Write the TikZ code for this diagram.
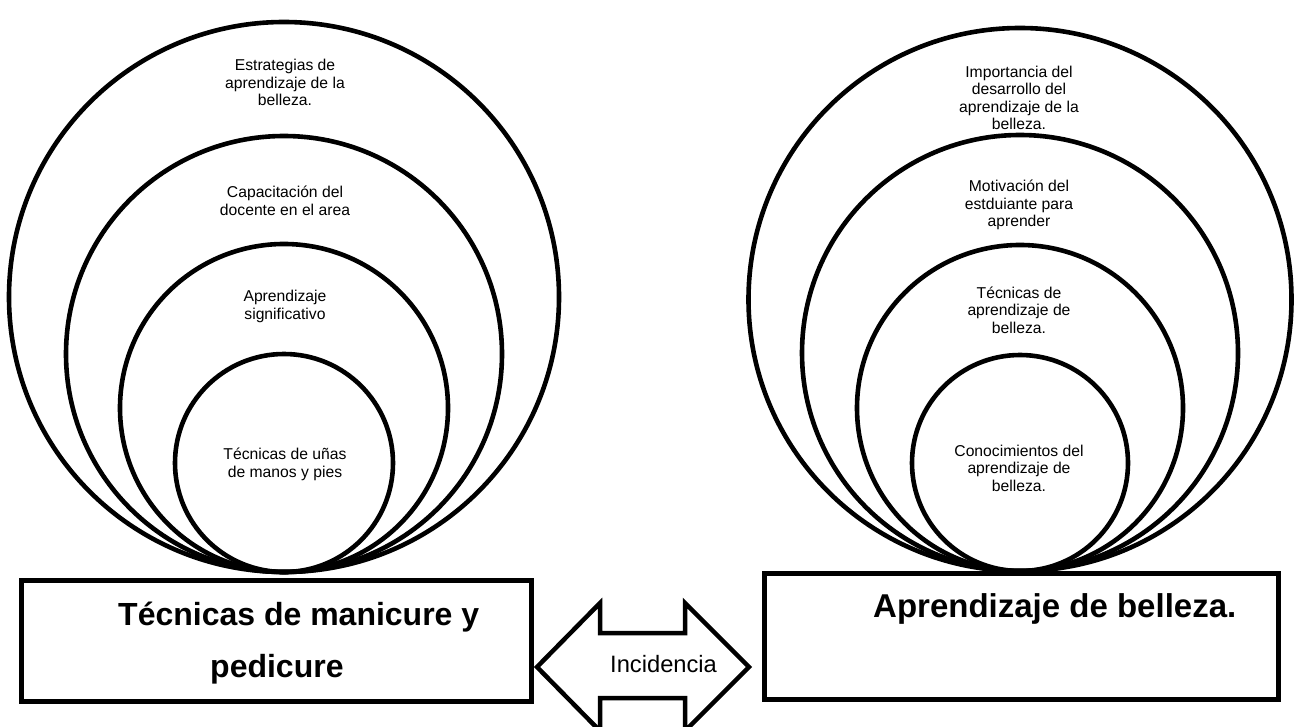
\documentclass[tikz,border=0pt]{standalone}
\usepackage{fontspec}
\setmainfont{Liberation Sans}
\begin{document}
\begin{tikzpicture}[x=1pt,y=-1pt,
  ring/.style={circle,draw,line width=4.6pt,inner sep=0pt,minimum size=#1},
  ctext/.style={align=center,font=\fontsize{15.7}{17.5}\selectfont,inner sep=0pt},
  bigbox/.style={draw,line width=5pt,inner sep=0pt},
  boxtext/.style={anchor=base west,inner sep=0pt,font=\fontsize{32}{36}\selectfont\bfseries},
  arrowshape/.style={draw,line width=4.5pt,line join=miter}]
\useasboundingbox (0,0) rectangle (1301,727);
\clip (0,0) rectangle (1301,727);

% left boxes
\node[bigbox,minimum width=510pt,minimum height=121pt] (lbox) at (276,640.5) {};
\node[bigbox,minimum width=514pt,minimum height=126pt] (rbox) at (1021,636.5) {};

% left circles
\node[ring=550pt] (l1) at (284,297) {};
\node[ring=436pt] (l2) at (284,354) {};
\node[ring=328pt] (l3) at (284,408) {};
\node[ring=218pt] (l4) at (284,463) {};

% right circles
\node[ring=543pt] (r1) at (1020,299.5) {};
\node[ring=436pt] (r2) at (1020,353) {};
\node[ring=326pt] (r3) at (1020,408) {};
\node[ring=216pt] (r4) at (1020,463) {};

% left texts
\node[ctext] (lt1) at (285,82.5) {Estrategias de\\aprendizaje de la\\belleza.};
\node[ctext] (lt2) at (285,201) {Capacitación del\\docente en el area};
\node[ctext] (lt3) at (285,306.5) {Aprendizaje\\significativo};
\node[ctext] (lt4) at (285,464.5) {Técnicas de uñas\\de manos y pies};

% right texts
\node[ctext] (rt1) at (1019,98) {Importancia del\\desarrollo del\\aprendizaje de la\\belleza.};
\node[ctext] (rt2) at (1019,205) {Motivación del\\estduiante para\\aprender};
\node[ctext] (rt3) at (1019,310) {Técnicas de\\aprendizaje de\\belleza.};
\node[ctext] (rt4) at (1019,468) {Conocimientos del\\aprendizaje de\\belleza.};

% box texts
\node[boxtext] (lbt1) at (118,625) {Técnicas de manicure y};
\node[boxtext] (lbt2) at (210,677) {pedicure};
\node[boxtext,font=\fontsize{33}{36}\selectfont\bfseries] (rbt) at (873,617) {Aprendizaje de belleza.};

% double arrow
\draw[arrowshape] (537,667) -- (600,603) -- (600,633) -- (685,633) -- (685,603)
  -- (749,667) -- (685,731) -- (685,698) -- (600,698) -- (600,731) -- cycle;
\node[anchor=base west,inner sep=0pt,font=\fontsize{23.7}{26}\selectfont] (inc) at (610,672) {Incidencia};
\end{tikzpicture}
\end{document}
